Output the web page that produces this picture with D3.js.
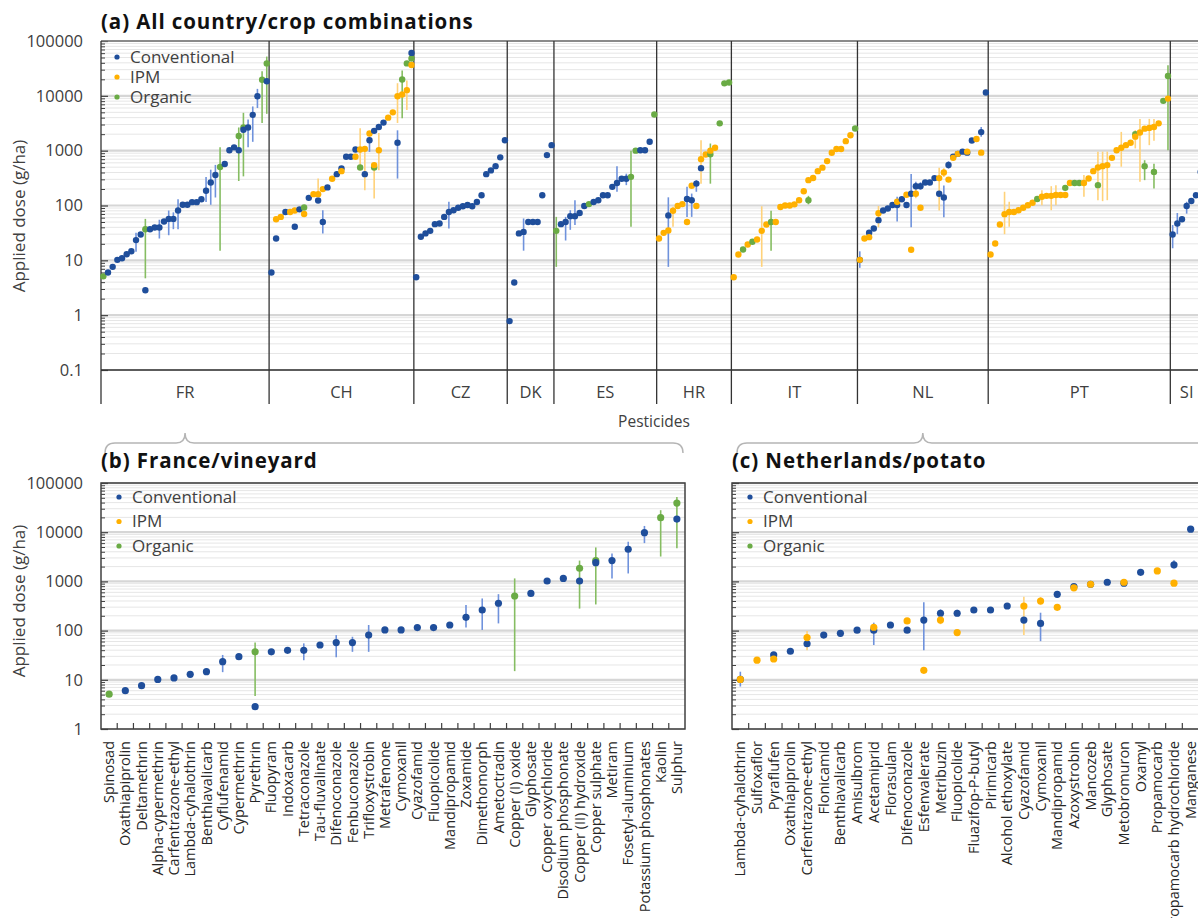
<!DOCTYPE html>
<html>
<head>
<meta charset="utf-8">
<script src="https://cdn.jsdelivr.net/npm/d3@7"></script>
<style>
  body { margin: 0; background: #fff; }
  svg { display: block; }
  text { font-family: "Open Sans", "Noto Sans", sans-serif; }
</style>
</head>
<body>
<svg id="chart"></svg>
<script>
// series order in every dose row: [Conventional, IPM, Organic], g/ha
const seriesNames = ["Conventional", "IPM", "Organic"];
const seriesColors = ["#1f4e9b", "#ffb000", "#6aab45"];
const errColors = ["#6f92dc", "#ffd27a", "#86bd62"];
const drawOrder = [2, 0, 1];

const countries = ["FR", "CH", "CZ", "DK", "ES", "HR", "IT", "NL", "PT", "SI"];
const ticksA = [0.1, 1, 10, 100, 1000, 10000, 100000];
const ticksB = [1, 10, 100, 1000, 10000, 100000];

// (b) France / vineyard
const frPesticides = ["Spinosad", "Oxathiapiprolin", "Deltamethrin", "Alpha-cypermethrin",
  "Carfentrazone-ethyl", "Lambda-cyhalothrin", "Benthiavalicarb", "Cyflufenamid", "Cypermethrin",
  "Pyrethrin", "Fluopyram", "Indoxacarb", "Tetraconazole", "Tau-fluvalinate", "Difenoconazole",
  "Fenbuconazole", "Trifloxystrobin", "Metrafenone", "Cymoxanil", "Cyazofamid", "Fluopicolide",
  "Mandipropamid", "Zoxamide", "Dimethomorph", "Ametoctradin", "Copper (I) oxide", "Glyphosate",
  "Copper oxychloride", "Disodium phosphonate", "Copper (II) hydroxide", "Copper sulphate",
  "Metiram", "Fosetyl-aluminium", "Potassium phosphonates", "Kaolin", "Sulphur"];
const frDoses = [[null, null, 5.1], [6.0], [7.6], [10.2], [10.9], [12.9], [14.6], [23.4], [29.5],
  [2.84, null, 37], [37], [39.8], [39.8], [51], [57], [57], [81], [103], [103], [115], [115], [130],
  [186], [262], [360], [null, null, 505], [570], [1020], [1150], [1020, null, 1850],
  [2400, null, 2650], [2650], [4500], [9800], [null, null, 19700], [18500, null, 39000]];
// [pesticide index, series, low, high]
const frErrors = [[7, 0, 14.3, 32], [9, 2, 4.7, 57], [12, 0, 25, 55], [14, 0, 28.7, 81],
  [15, 0, 37, 75], [16, 0, 37, 130], [22, 0, 116, 330], [23, 0, 103, 450], [24, 0, 140, 550],
  [25, 2, 15, 1150], [29, 2, 280, 2650], [30, 2, 340, 4900], [31, 0, 1150, 3700],
  [32, 0, 1450, 6400], [33, 0, 6000, 13400], [34, 2, 3200, 28000], [35, 2, 4700, 52000]];

// (c) Netherlands / potato
const nlPesticides = ["Lambda-cyhalothrin", "Sulfoxaflor", "Pyraflufen", "Oxathiapiprolin",
  "Carfentrazone-ethyl", "Flonicamid", "Benthiavalicarb", "Amisulbrom", "Acetamiprid", "Florasulam",
  "Difenoconazole", "Esfenvalerate", "Metribuzin", "Fluopicolide", "Fluazifop-P-butyl", "Pirimicarb",
  "Alcohol ethoxylate", "Cyazofamid", "Cymoxanil", "Mandipropamid", "Azoxystrobin", "Mancozeb",
  "Glyphosate", "Metobromuron", "Oxamyl", "Propamocarb", "Propamocarb hydrochloride", "Manganese"];
const nlDoses = [[10.2, 10.2], [null, 25], [32, 26.5], [38], [54, 72], [81], [88], [102],
  [102, 117], [130], [102, 157], [164, 15.6], [225, 164], [225, 91], [262], [262], [316],
  [164, 316], [140, 400], [547, 297], [780, 740], [875, 875], [960], [920, 960], [1530],
  [null, 1630], [2180, 920], [11500]];
const nlErrors = [[0, 0, 7.3, 14.6], [4, 1, 40, 98], [8, 0, 51, 145], [11, 0, 40, 376],
  [12, 0, 190, 270], [12, 1, 135, 195], [13, 0, 195, 265], [17, 1, 81, 490], [18, 1, 330, 480],
  [18, 0, 61, 231], [19, 0, 470, 640], [26, 0, 1800, 2700]];

// (a) other country/crop combinations
const chDoses = [[6.0], [25, 56], [null, 62], [76], [null, 76], [41, 81], [85], [null, 70, 92],
  [138], [null, 161], [123, 161], [50, 199], [214], [null, 308], [373], [473, 423], [775], [775],
  [1050, 775], [null, 1050, 492], [373, 1080], [1550, 2050], [2300, 545, 492], [2700, 1020],
  [3250], [null, 4000], [null, 5000], [1390, 9800], [null, 10600, 19800], [null, 12700, 39000],
  [60700, 36500, 48000]];
const chErrors = [[10, 1, 143, 310], [11, 0, 31, 82], [19, 1, 440, 2550], [20, 1, 190, 1100],
  [21, 0, 950, 1800], [22, 1, 134, 600], [23, 1, 440, 2100], [27, 0, 310, 2350],
  [27, 1, 3200, 17000], [28, 2, 3900, 29000], [29, 1, 5500, 19000]];

const czDoses = [[4.9], [27], [31], [34.5], [45.7], [47], [62], [76], [82], [91], [97], [102],
  [97], [116], [154], [373], [437], [522], [755], [1550]];
const czErrors = [[7, 0, 38, 117]];

const dkDoses = [[0.78], [3.95], [31], [33], [50], [50], [50], [154], [830], [1260]];
const dkErrors = [[3, 0, 15, 58]];

const esDoses = [[null, null, 34.5], [45.7], [50], [64], [64], [73], [98], [null, null, 106],
  [116], [125], [154], [154], [219], [258], [308], [308], [null, null, 333], [null, null, 1000],
  [1020], [1020], [1450], [null, null, 4570]];
const esErrors = [[0, 2, 7.6, 62], [2, 0, 23, 62], [3, 0, 36, 82], [4, 0, 44, 125],
  [13, 0, 178, 520], [15, 0, 235, 380], [16, 2, 41, 1000]];

const hrDoses = [[null, 25], [null, 31.7], [66, 35], [null, 80], [null, 98], [null, 106],
  [131, 50], [125, 229], [251, 98], [480, 700], [null, 850], [null, 1000, 860], [null, 1130],
  [null, null, 3150], [null, null, 16900], [null, null, 17500]];
const hrErrors = [[2, 0, 7.6, 141], [3, 1, 41, 95], [6, 0, 62, 219], [7, 0, 62, 165],
  [8, 0, 178, 290], [9, 1, 250, 1550], [11, 2, 250, 1350]];

const itDoses = [[null, 4.9], [null, 12.8], [null, null, 15.8], [null, 19.5], [null, null, 21.8],
  [null, 24], [null, 34.5], [null, 45], [null, null, 50], [null, 50], [null, 94], [null, 100],
  [null, 100], [null, 105], [null, 125], [null, 182], [null, 290, 125], [null, 318], [null, 423],
  [null, 490], [null, 645], [null, 915], [null, 1070], [null, 1070], [null, 1490], [null, 1910],
  [null, null, 2530]];
const itErrors = [[6, 1, 7.6, 97], [8, 2, 15, 80], [16, 2, 105, 150]];

const ptDoses = [[null, 12.8], [null, 20.3], [null, 45], [null, 69.5], [null, 76], [null, 76],
  [null, 82], [null, 91], [null, 101], [null, 112], [null, null, 131], [null, 144], [null, 150],
  [null, 150], [null, 155], [null, 155], [null, 155, 210], [null, 258], [null, null, 258],
  [null, null, 258], [null, 258], [null, 311], [null, 423], [null, 492, 235], [null, 522],
  [null, 545], [null, 740], [null, 1020], [null, 1130], [null, 1260], [null, 1390],
  [null, 1800, 2000], [null, 2150], [null, 2520, 522], [null, 2600], [null, 2700, 410],
  [null, 3150], [null, null, 8100], [null, 8900, 23000]];
const ptErrors = [[3, 1, 30, 178], [4, 1, 41, 117], [11, 1, 101, 190], [13, 1, 82, 225],
  [14, 1, 101, 235], [20, 1, 144, 360], [23, 1, 125, 960], [24, 1, 120, 960], [25, 1, 125, 960],
  [28, 1, 510, 2200], [31, 1, 1100, 2370], [32, 1, 270, 3800], [33, 2, 290, 670],
  [34, 1, 1260, 3800], [35, 2, 205, 580], [35, 1, 1520, 3800], [38, 2, 1020, 36000]];

const siDoses = [[29.6], [47], [56], [98], [121], [154], [410]];
const siErrors = [[0, 0, 16.6, 44], [1, 0, 30, 73], [3, 0, 71, 117]];

const countryDoses = [frDoses, chDoses, czDoses, dkDoses, esDoses, hrDoses, itDoses, nlDoses, ptDoses, siDoses];
const countryErrors = [frErrors, chErrors, czErrors, dkErrors, esErrors, hrErrors, itErrors, nlErrors, ptErrors, siErrors];

const W = 1198, H = 918;
const svg = d3.select("#chart").attr("width", W).attr("height", H);
svg.append("rect").attr("width", W).attr("height", H).attr("fill", "#fff");

const axisCol = "#404040";
const labelCol = "#404040";

function toPoints(doses, offset) {
  const pts = [];
  doses.forEach((row, i) => {
    drawOrder.forEach(s => {
      if (row[s] != null) pts.push({ i: i + offset, s: s, v: row[s] });
    });
  });
  return pts;
}
function toErrors(errs, offset) {
  return errs.map(e => ({ i: e[0] + offset, s: e[1], lo: e[2], hi: e[3] }));
}

function minorValues(decades) {
  const m = [];
  decades.slice(0, -1).forEach(d => { for (let k = 2; k <= 9; k++) m.push(d * k); });
  return m;
}

function drawGrid(g, y, x0, x1, decades) {
  g.selectAll(".gmin").data(minorValues(decades)).join("line")
    .attr("x1", x0).attr("x2", x1)
    .attr("y1", d => y(d)).attr("y2", d => y(d))
    .attr("stroke", "#e6e6e6").attr("stroke-width", 1);
  g.selectAll(".gmaj").data(decades).join("line")
    .attr("x1", x0).attr("x2", x1)
    .attr("y1", d => y(d)).attr("y2", d => y(d))
    .attr("stroke", "#d6d6d6").attr("stroke-width", 2.2);
}

function drawYAxis(g, y, x0, decades, withLabels) {
  const major = g.append("g").attr("transform", `translate(${x0},0)`)
    .call(d3.axisLeft(y).tickValues(decades).tickSizeInner(-7).tickSizeOuter(0)
      .tickPadding(18).tickFormat(withLabels ? (d => String(d)) : ""));
  major.select(".domain").remove();
  major.selectAll(".tick line").attr("stroke", axisCol).attr("stroke-width", 1.2);
  major.selectAll("text").attr("font-size", 16.5).attr("fill", labelCol)
    .attr("font-family", "'Open Sans', sans-serif");
  const minor = g.append("g").attr("transform", `translate(${x0},0)`)
    .call(d3.axisLeft(y).tickValues(minorValues(decades)).tickSizeInner(-4).tickSizeOuter(0).tickFormat(""));
  minor.select(".domain").remove();
  minor.selectAll(".tick line").attr("stroke", axisCol).attr("stroke-width", 1);
}

function drawMarks(g, xc, y, pts, errs, r) {
  g.append("g").selectAll("line").data(errs).join("line")
    .attr("x1", d => xc(d.i)).attr("x2", d => xc(d.i))
    .attr("y1", d => y(d.lo)).attr("y2", d => y(d.hi))
    .attr("stroke", d => errColors[d.s]).attr("stroke-width", 1.6);
  g.append("g").selectAll("circle").data(pts).join("circle")
    .attr("cx", d => xc(d.i)).attr("cy", d => y(d.v)).attr("r", r)
    .attr("fill", d => seriesColors[d.s]);
}

function drawLegend(g, x, y0, step) {
  const lg = g.append("g");
  seriesNames.forEach((name, k) => {
    lg.append("circle").attr("cx", x).attr("cy", y0 + k * step).attr("r", 2.6)
      .attr("fill", seriesColors[k]);
    lg.append("text").attr("x", x + 13).attr("y", y0 + k * step).attr("dy", "0.35em")
      .attr("font-size", 17).attr("fill", labelCol).text(name);
  });
}

function drawTitle(g, x, y, label) {
  g.append("text").attr("x", x).attr("y", y).attr("font-size", 20.5).attr("font-weight", 700)
    .attr("letter-spacing", 0.9).attr("fill", "#111").text(label);
}

function bracePath(x1, x2, xm, y0) {
  const p = d3.path();
  p.moveTo(x1, y0 + 10);
  p.quadraticCurveTo(x1, y0, x1 + 10, y0);
  p.lineTo(xm - 9, y0);
  p.quadraticCurveTo(xm, y0, xm, y0 - 10);
  p.quadraticCurveTo(xm, y0, xm + 9, y0);
  p.lineTo(x2 - 10, y0);
  p.quadraticCurveTo(x2, y0, x2, y0 + 10);
  return p.toString();
}

// ---------- panel (a) ----------
const starts = [];
let acc = 0;
countryDoses.forEach(d => { starts.push(acc); acc += d.length; });
const totalA = acc;

const xA = d3.scaleBand().domain(d3.range(totalA)).range([101, 1203]);
const yA = d3.scaleLog().domain([0.1, 100000]).range([370, 41]);
const xcA = i => xA(i) + xA.bandwidth() / 2;

const gA = svg.append("g");
drawGrid(gA, yA, 101, W, ticksA);
drawYAxis(gA, yA, 101, ticksA, true);

let ptsA = [], errsA = [];
countryDoses.forEach((d, c) => {
  ptsA = ptsA.concat(toPoints(d, starts[c]));
  errsA = errsA.concat(toErrors(countryErrors[c], starts[c]));
});

// frame
gA.append("line").attr("x1", 101).attr("x2", W).attr("y1", 41).attr("y2", 41)
  .attr("stroke", "#707070").attr("stroke-width", 1.3);
gA.append("line").attr("x1", 101).attr("x2", W).attr("y1", 370).attr("y2", 370)
  .attr("stroke", "#333").attr("stroke-width", 1.3);
gA.append("line").attr("x1", 101).attr("x2", 101).attr("y1", 41).attr("y2", 404)
  .attr("stroke", "#333").attr("stroke-width", 1.3);
gA.selectAll(".sep").data(starts.slice(1)).join("line")
  .attr("x1", d => xA(d)).attr("x2", d => xA(d)).attr("y1", 41).attr("y2", 404)
  .attr("stroke", "#333").attr("stroke-width", 1.3);

drawMarks(gA, xcA, yA, ptsA, errsA, 3.2);

gA.selectAll(".ctry").data(countries).join("text")
  .attr("x", (d, c) => xA(starts[c]) + countryDoses[c].length * xA.bandwidth() / 2)
  .attr("y", 392).attr("dy", "0.35em").attr("text-anchor", "middle")
  .attr("font-size", 16.5).attr("fill", labelCol).text(d => d);

gA.append("text").attr("x", 654).attr("y", 422).attr("dy", "0.35em").attr("text-anchor", "middle")
  .attr("font-size", 15.5).attr("fill", labelCol).text("Pesticides");

gA.append("text").attr("transform", "translate(25,216) rotate(-90)").attr("text-anchor", "middle")
  .attr("font-size", 17).attr("fill", labelCol).text("Applied dose (g/ha)");

drawTitle(gA, 101, 29, "(a) All country/crop combinations");

drawLegend(gA, 117, 57, 20);

// ---------- panels (b) and (c) ----------
const yB = d3.scaleLog().domain([1, 100000]).range([729, 483]);

function drawDetail(names, doses, errs, x0, x1, title, withLabels) {
  const g = svg.append("g");
  const x = d3.scaleBand().domain(d3.range(names.length)).range([x0, x1]);
  const xc = i => x(i) + x.bandwidth() / 2;
  drawGrid(g, yB, x0, x1, ticksB);
  drawYAxis(g, yB, x0, ticksB, withLabels);

  g.append("g").selectAll("line").data(d3.range(1, names.length)).join("line")
    .attr("x1", d => x(d)).attr("x2", d => x(d)).attr("y1", 729).attr("y2", 723)
    .attr("stroke", axisCol).attr("stroke-width", 1.2);

  g.append("rect").attr("x", x0).attr("y", 483).attr("width", x1 - x0).attr("height", 246)
    .attr("fill", "none").attr("stroke", "#404040").attr("stroke-width", 1.5);

  drawMarks(g, xc, yB, toPoints(doses, 0), toErrors(errs, 0), 3.6);

  g.append("g").selectAll("text").data(names).join("text")
    .attr("transform", (d, i) => `translate(${xc(i)},741) rotate(-90)`)
    .attr("text-anchor", "end").attr("dy", "0.35em")
    .attr("font-family", "'Liberation Sans', Arial, sans-serif")
    .attr("font-size", 14.5).attr("fill", "#262626").text(d => d);

  drawTitle(g, x0, 468, title);

  drawLegend(g, x0 + 18, 497, 24.5);
  return g;
}

const gB = drawDetail(frPesticides, frDoses, frErrors, 101, 685, "(b) France/vineyard", true);
gB.append("text").attr("transform", "translate(25,601) rotate(-90)").attr("text-anchor", "middle")
  .attr("font-size", 17).attr("fill", labelCol).text("Applied dose (g/ha)");

drawDetail(nlPesticides, nlDoses, nlErrors, 732, 1199, "(c) Netherlands/potato", false);

// braces linking the country groups in (a) to the detail panels
const frCenter = xA(starts[0]) + frDoses.length * xA.bandwidth() / 2;
const nlCenter = xA(starts[7]) + nlDoses.length * xA.bandwidth() / 2;
svg.append("path").attr("d", bracePath(105, 683, frCenter, 443))
  .attr("fill", "none").attr("stroke", "#b5b5b5").attr("stroke-width", 1.5);
svg.append("path").attr("d", bracePath(737, 1230, nlCenter, 443))
  .attr("fill", "none").attr("stroke", "#b5b5b5").attr("stroke-width", 1.5);
</script>
</body>
</html>
